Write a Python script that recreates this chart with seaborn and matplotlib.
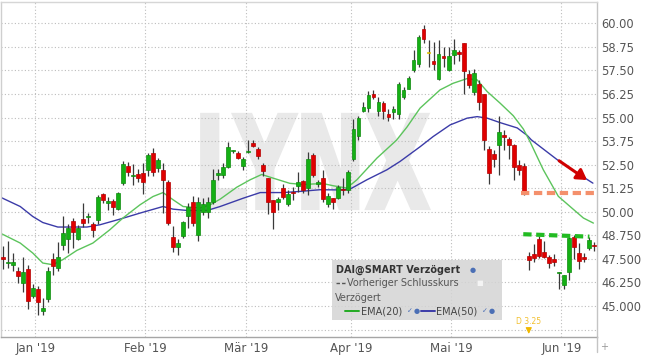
import numpy as np
import pandas as pd
import seaborn as sns
import matplotlib.pyplot as plt
from matplotlib.textpath import TextPath
from matplotlib.patches import PathPatch, Rectangle
from matplotlib.font_manager import FontProperties
from matplotlib.transforms import Affine2D
from matplotlib.lines import Line2D


# daily candles, mid Dec 2018 .. early Jun 2019
opens = [47.58, 47.26, 47.18, 46.86, 46.20, 46.96, 45.53, 45.90, 44.74, 45.37,
         47.50, 47.02, 48.24, 48.55, 49.50, 48.55, 49.61, 49.70, 49.35, 49.56,
         50.94, 50.48, 50.57, 50.14, 51.52, 52.42, 51.90, 52.00, 52.05, 52.20,
         53.10, 52.32, 52.20, 51.57, 48.66, 48.13, 48.70, 49.77, 50.51, 48.77,
         49.98, 49.98, 50.51, 51.95, 51.94, 52.38, 53.20, 53.13, 52.44, 53.15,
         53.66, 53.32, 52.47, 51.77, 50.62, 50.50, 51.24, 50.40, 51.02, 51.38,
         51.63, 51.24, 53.00, 51.50, 51.77, 50.40, 50.72, 50.74, 51.17, 51.15,
         52.78, 54.01, 55.35, 55.53, 56.25, 55.35, 55.78, 55.20, 55.28, 55.20,
         56.09, 56.54, 57.51, 57.86, 59.71, 58.43, 57.99, 57.07, 58.25, 57.55,
         58.30, 58.50, 58.95, 57.30, 56.36, 56.80, 56.24, 53.32, 53.09, 53.52,
         54.07, 53.84, 53.54, 52.47, 52.42, 47.65, 47.76, 48.55, 47.87, 47.60,
         47.47, 46.75, 46.10, 46.82, 48.64, 47.81, 47.55, 48.10, 48.20]
highs = [48.18, 48.45, 47.80, 47.07, 47.60, 47.18, 46.17, 46.06, 45.43, 47.07,
         47.80, 48.40, 49.77, 49.35, 49.66, 49.30, 50.46, 49.93, 49.45, 50.88,
         50.99, 50.78, 50.67, 51.05, 52.69, 52.64, 52.53, 52.27, 52.58, 53.10,
         53.37, 52.85, 52.58, 51.68, 49.24, 48.55, 49.50, 50.46, 50.83, 50.78,
         50.72, 50.78, 52.26, 52.26, 52.58, 53.71, 53.30, 53.20, 52.92, 53.80,
         53.83, 53.45, 52.60, 51.77, 50.62, 50.80, 51.50, 51.15, 51.32, 52.12,
         51.68, 53.18, 53.10, 51.68, 52.20, 51.00, 50.75, 51.41, 51.77, 52.20,
         54.95, 55.07, 55.83, 56.41, 56.45, 56.10, 55.90, 55.48, 55.60, 56.90,
         56.60, 57.20, 58.57, 59.36, 59.90, 59.10, 59.00, 59.10, 58.75, 58.75,
         59.17, 58.57, 58.95, 57.55, 57.60, 57.00, 56.24, 53.50, 53.27, 55.10,
         54.33, 53.98, 53.62, 52.73, 52.60, 47.87, 48.27, 48.70, 48.43, 47.70,
         47.76, 46.83, 46.65, 48.64, 48.78, 48.32, 47.80, 48.64, 48.40]
lows = [46.96, 47.00, 46.86, 46.20, 45.74, 44.84, 45.43, 44.53, 44.53, 45.20,
        46.65, 46.86, 47.97, 47.80, 48.08, 48.50, 49.20, 49.40, 48.66, 49.35,
        50.46, 50.10, 49.83, 50.10, 51.40, 51.90, 51.40, 51.56, 50.94, 51.90,
        51.90, 52.10, 49.93, 49.30, 47.86, 47.70, 48.60, 49.14, 49.24, 48.45,
        49.83, 49.66, 50.40, 51.68, 51.78, 52.30, 53.10, 52.82, 52.20, 53.13,
        53.45, 52.82, 51.90, 49.90, 49.08, 50.10, 50.70, 50.30, 50.62, 51.06,
        51.00, 50.90, 51.85, 51.33, 50.53, 50.27, 50.17, 50.67, 50.90, 50.98,
        52.70, 53.83, 55.30, 55.30, 56.00, 55.10, 54.95, 54.83, 54.95, 54.95,
        56.00, 56.50, 57.42, 57.68, 58.95, 57.68, 57.50, 57.00, 57.70, 57.45,
        57.82, 58.00, 56.25, 56.55, 56.18, 55.40, 53.30, 51.47, 52.40, 51.95,
        53.27, 52.78, 51.68, 51.94, 50.90, 46.90, 47.35, 47.53, 47.53, 47.00,
        47.10, 45.88, 45.88, 46.40, 47.50, 46.98, 47.35, 47.98, 47.90]
closes = [47.52, 47.30, 47.33, 46.60, 46.80, 45.27, 45.96, 45.20, 44.90, 46.86,
          47.12, 47.60, 48.87, 49.14, 48.92, 49.14, 49.40, 49.75, 49.03, 50.78,
          50.62, 50.54, 50.25, 50.99, 52.53, 52.10, 51.96, 51.80, 51.57, 53.00,
          52.10, 52.74, 51.68, 49.40, 48.13, 48.34, 49.45, 50.25, 49.40, 50.51,
          50.40, 50.51, 51.68, 52.05, 52.38, 53.45, 53.25, 52.88, 52.78, 53.20,
          53.50, 52.97, 52.17, 50.53, 50.00, 50.70, 50.76, 50.97, 50.98, 51.59,
          51.18, 52.78, 51.94, 51.57, 50.67, 50.83, 50.53, 51.33, 51.13, 52.12,
          54.42, 55.00, 55.56, 56.22, 56.09, 55.83, 55.35, 55.03, 55.48, 56.80,
          56.45, 57.12, 58.04, 59.27, 59.19, 58.43, 57.83, 58.36, 58.16, 58.25,
          58.60, 58.40, 57.47, 56.71, 57.36, 55.83, 53.80, 52.07, 52.78, 54.22,
          53.98, 53.54, 52.38, 52.20, 51.06, 47.44, 47.53, 47.65, 47.60, 47.26,
          47.35, 46.80, 46.65, 48.60, 48.13, 47.40, 47.51, 48.50, 48.16]

# moving averages as drawn by the platform (sampled along the curves)
ema20_pos = [-0.5, 3.5, 6.0, 8.0, 10.0, 12.0, 14.8, 18.0, 21.4, 24.0, 27.4, 30.0,
             32.0, 34.0, 36.0, 39.4, 41.4, 43.4, 46.7, 49.4, 51.7, 53.8, 57.3,
             60.0, 63.9, 66.0, 68.7, 70.7, 74.7, 78.6, 80.7, 83.3, 87.3, 89.9,
             92.7, 94.7, 96.7, 99.3, 101.9, 103.9, 105.2, 107.9, 110.9, 113.2,
             115.9, 117.9]
ema20 = [48.87, 48.34, 47.81, 47.28, 47.19, 47.46, 47.95, 48.34, 49.05, 49.67, 50.37,
         50.81, 51.02, 50.64, 50.28, 50.20, 50.37, 50.67, 51.30, 51.70, 51.98, 51.80,
         51.51, 51.45, 51.50, 51.38, 51.26, 51.70, 52.85, 53.80, 54.50, 55.50, 56.47,
         56.82, 57.07, 57.00, 56.38, 55.76, 55.10, 54.40, 53.75, 52.23, 50.82, 50.29,
         49.67, 49.40]
ema50_pos = [-0.5, 3.5, 6.0, 8.0, 11.0, 16.8, 19.4, 23.4, 27.4, 32.0, 34.0, 36.8,
             40.8, 43.4, 48.0, 51.4, 56.0, 59.3, 63.3, 67.3, 69.3, 72.7, 76.7, 79.3,
             83.3, 85.9, 89.3, 92.7, 94.7, 96.7, 99.3, 102.7, 104.7, 105.5, 110.6,
             113.8, 117.8]
ema50 = [50.78, 50.28, 49.75, 49.43, 49.19, 49.19, 49.31, 49.61, 49.93, 50.28, 50.14,
         50.07, 50.07, 50.28, 50.72, 51.02, 51.02, 51.08, 51.17, 51.16, 51.20, 51.70,
         52.23, 52.67, 53.45, 53.99, 54.61, 54.97, 55.05, 54.97, 54.73, 54.45, 54.05,
         53.82, 52.78, 52.20, 51.52]

month_labels = ["Jan '19", "Feb '19", "Mär '19", "Apr '19", "Mai '19", "Jun '19"]
month_start = [7, 29, 49, 70, 90, 112]

price_ticks = [43.75, 45.0, 46.25, 47.5, 48.75, 50.0, 51.25, 52.5, 53.75,
               55.0, 56.25, 57.5, 58.75, 60.0]
price_labels = ["", "45.000", "46.250", "47.500", "48.750", "50.00", "51.25",
                "52.50", "53.75", "55.00", "56.25", "57.50", "58.75", "60.00"]

# hand drawn marks on the chart
gap_line_x = [103.4, 118.0]
gap_line_y = [50.98, 50.98]
resist_x = [103.9, 117.1]
resist_y = [48.81, 48.68]
arrow_from = (110.6, 52.79)
arrow_to = (117.1, 51.60)
dividend_idx = 105
dividend_label = "D 3.25"

df = pd.DataFrame({"open": opens, "high": highs, "low": lows, "close": closes})
df["pos"] = np.arange(len(df))
df["color"] = np.where(df.close > df.open, "#14b014",
                       np.where(df.close < df.open, "#e00000", "#f2d200"))
df["edge"] = np.where(df.close > df.open, "#0e8a0e",
                      np.where(df.close < df.open, "#b40000", "#d8b800"))

sns.set_theme(style="white")
plt.rcParams["font.family"] = ["DejaVu Sans"]

fig = plt.figure(figsize=(6.45, 3.58), dpi=100)
ax = fig.add_axes([1 / 645, 21.3 / 358, 596 / 645, 335 / 358])

# watermark
tp = TextPath((0, 0), "LYNX", size=1, prop=FontProperties(family="DejaVu Sans", weight="bold"))
bb = tp.get_extents()
wm_tr = (Affine2D().translate(-bb.x0, -bb.y0)
         .scale(0.38 / bb.width, 0.28 / bb.height)
         .translate(0.337, 0.383) + ax.transAxes)
ax.add_patch(PathPatch(tp, transform=wm_tr, fc="#e9e9e9", ec="#e9e9e9", lw=2.5,
                       zorder=0.2))

# EMAs
sns.lineplot(x=ema50_pos, y=ema50, ax=ax, color="#3b3ba8", lw=1.0, zorder=1.5)
sns.lineplot(x=ema20_pos, y=ema20, ax=ax, color="#5cc45c", lw=1.0, zorder=1.6)

# candles
ax.vlines(df.pos, df.low, df.high, color="#3a3a3a", lw=0.9, zorder=2)
body = np.maximum((df.close - df.open).abs(), 0.07)
ax.bar(df.pos, body, bottom=np.minimum(df.open, df.close), width=0.76,
       color=df.color, edgecolor=df.edge, linewidth=0.5, zorder=3)

# annotations
ax.plot(gap_line_x, gap_line_y, color="#f4906c", lw=3, linestyle=(0, (2, 1.1)),
        zorder=4, solid_capstyle="butt")
ax.plot(resist_x, resist_y, color="#22bb22", lw=3, linestyle=(0, (2, 1.1)), zorder=4)
ax.annotate("", xy=arrow_to, xytext=arrow_from,
            arrowprops=dict(arrowstyle="-|>,head_length=0.5,head_width=0.3",
                            color="#d00000", lw=2.2), zorder=5)

ax.set_xlim(-0.34, 118.62)
ax.set_ylim(43.37, 61.15)

ax.annotate("", xy=(dividend_idx, 43.37), xytext=(0, 7), textcoords="offset points",
            arrowprops=dict(arrowstyle="-|>,head_length=0.3,head_width=0.15",
                            color="#f0b800", lw=0.8))
ax.annotate(dividend_label, xy=(dividend_idx, 43.37), xytext=(0, 11.3),
            textcoords="offset points", ha="center", va="center",
            fontsize=5.5, color="#f2c030")

# axes styling
ax.yaxis.tick_right()
ax.set_yticks(price_ticks, price_labels)
ax.set_xticks([s - 0.5 for s in month_start], month_labels)
ax.tick_params(axis="y", labelsize=8.3, colors="#555555", length=0, pad=3)
ax.tick_params(axis="x", labelsize=8.5, colors="#555555", length=0, pad=4)
ax.set_axisbelow(True)
ax.grid(True, color="#bdbdbd", linestyle=(0, (1, 2)), lw=0.8)
ax.set_xlabel("")
ax.set_ylabel("")
for side, col in [("left", "#cfcfcf"), ("top", "#d6d6d6"),
                  ("right", "#c4c4c4"), ("bottom", "#a6a6a6")]:
    ax.spines[side].set_color(col)
    ax.spines[side].set_linewidth(1.0)
fig.add_artist(Line2D([597 / 645, 597 / 645], [1 - 337 / 358, 1 - 352 / 358],
                      color="#c4c4c4", lw=1.0))
fig.text(600 / 645, 1 - 347 / 358, "+", fontsize=7, color="#999999", va="center")

# legend panel
ax.add_patch(Rectangle((0.555, 0.050), 0.285, 0.179, transform=ax.transAxes,
                       fc="#d4d4d4", alpha=0.85, ec="none", zorder=6))


def fx(px):
    return px / 645


def fy(py):
    return 1 - py / 358


fig.text(fx(336), fy(270), "DAI@SMART Verzögert", fontsize=7, weight="bold",
         color="#333333", va="center", zorder=7)
fig.text(fx(470), fy(270), "●", fontsize=5, color="#4b6fb5", va="center", zorder=7)
fig.add_artist(Line2D([fx(336), fx(346)], [fy(283), fy(283)], color="#555555",
                      lw=1.0, linestyle=(0, (2.5, 1.5)), zorder=7))
fig.text(fx(347), fy(283), "Vorheriger Schlusskurs", fontsize=7, color="#555555",
         va="center", zorder=7)
fig.text(fx(476), fy(283), "■", fontsize=5, color="#f4f4f4", va="center", zorder=7)
fig.text(fx(335), fy(298), "Verzögert", fontsize=7, color="#555555", va="center", zorder=7)
fig.add_artist(Line2D([fx(345), fx(359)], [fy(311), fy(311)], color="#22aa22",
                      lw=1.4, zorder=7))
fig.text(fx(361), fy(311), "EMA(20)", fontsize=7, color="#444444", va="center", zorder=7)
fig.text(fx(407), fy(311), "✓", fontsize=5, color="#4b6fb5", va="center", zorder=7)
fig.text(fx(414), fy(311), "●", fontsize=5, color="#4b6fb5", va="center", zorder=7)
fig.add_artist(Line2D([fx(421), fx(435)], [fy(311), fy(311)], color="#3b3ba8",
                      lw=1.4, zorder=7))
fig.text(fx(436), fy(311), "EMA(50)", fontsize=7, color="#444444", va="center", zorder=7)
fig.text(fx(482), fy(311), "✓", fontsize=5, color="#4b6fb5", va="center", zorder=7)
fig.text(fx(489), fy(311), "●", fontsize=5, color="#4b6fb5", va="center", zorder=7)

plt.savefig("out.png", dpi=100)
